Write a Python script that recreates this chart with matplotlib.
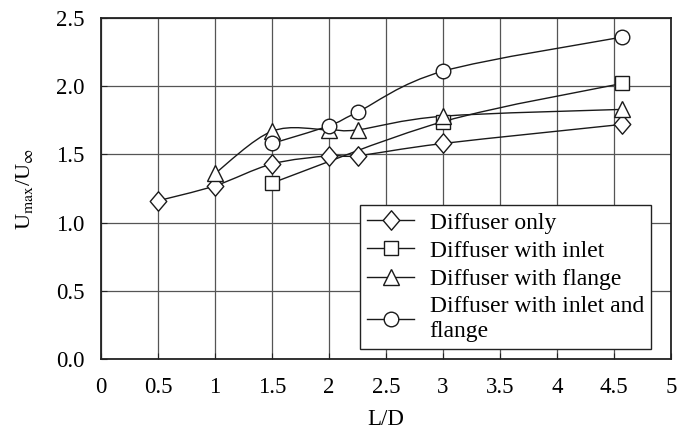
import numpy as np
import matplotlib
matplotlib.use("Agg")
import matplotlib.pyplot as plt
from matplotlib.path import Path
from matplotlib.patches import PathPatch
from matplotlib.lines import Line2D

plt.rcParams['font.family'] = ['Liberation Serif', 'DejaVu Serif']
plt.rcParams['mathtext.fontset'] = 'stix'

# Data
x_diam = [0.5, 1.0, 1.5, 2.0, 2.25, 3.0, 4.57]
y_diam = [1.16, 1.27, 1.43, 1.49, 1.49, 1.58, 1.72]
x_sq = [1.5, 3.0, 4.57]
y_sq = [1.29, 1.74, 2.02]
x_tri = [1.0, 1.5, 2.0, 2.25, 3.0, 4.57]
y_tri = [1.36, 1.67, 1.68, 1.68, 1.78, 1.83]
x_circ = [1.5, 2.0, 2.25, 3.0, 4.57]
y_circ = [1.58, 1.71, 1.81, 2.11, 2.36]
labels = ["Diffuser only", "Diffuser with inlet", "Diffuser with flange",
          "Diffuser with inlet and\nflange"]
xticks = [0, 0.5, 1, 1.5, 2, 2.5, 3, 3.5, 4, 4.5, 5]
xticklabels = ["0", "0.5", "1", "1.5", "2", "2.5", "3", "3.5", "4", "4.5", "5"]
yticks = [0.0, 0.5, 1.0, 1.5, 2.0, 2.5]
yticklabels = ["0.0", "0.5", "1.0", "1.5", "2.0", "2.5"]


def smooth_path(xs, ys, t=1/6):
    pts = np.column_stack([xs, ys]).astype(float)
    n = len(pts)
    verts = [pts[0]]
    codes = [Path.MOVETO]
    for i in range(n - 1):
        p0 = pts[i - 1] if i > 0 else pts[i]
        p1 = pts[i]
        p2 = pts[i + 1]
        p3 = pts[i + 2] if i + 2 < n else pts[i + 1]
        c1 = p1 + (p2 - p0) * t
        c2 = p2 - (p3 - p1) * t
        verts += [c1, c2, p2]
        codes += [Path.CURVE4] * 3
    return Path(verts, codes)


diamond = Path([(0, 1), (-0.85, 0), (0, -1), (0.85, 0), (0, 1)],
               [Path.MOVETO, Path.LINETO, Path.LINETO, Path.LINETO, Path.CLOSEPOLY])

fig = plt.figure(figsize=(6.78, 4.32), dpi=100)
ax = fig.add_axes([101/678, 1 - 359/432, 570/678, 341/432])
ax.set_xlim(0, 5)
ax.set_ylim(0, 2.5)

ax.grid(True, color='#555555', linewidth=0.9)
ax.set_axisbelow(True)

ec = '#1a1a1a'
series = [(x_diam, y_diam, diamond, 14), (x_sq, y_sq, 's', 10),
          (x_tri, y_tri, '^', 12), (x_circ, y_circ, 'o', 10.5)]
handles = []
for (xs, ys, m, ms), lab in zip(series, labels):
    patch = PathPatch(smooth_path(xs, ys), facecolor='none', edgecolor=ec,
                      linewidth=1.0, zorder=3)
    ax.add_patch(patch)
    ax.plot(xs, ys, linestyle='none', marker=m, markersize=ms,
            markerfacecolor='white', markeredgecolor=ec,
            markeredgewidth=1.0, zorder=4)
    handles.append(Line2D([], [], color=ec, linewidth=1.0, marker=m,
                          markersize=ms, markerfacecolor='white',
                          markeredgecolor=ec, markeredgewidth=1.0, label=lab))

ax.set_xticks(xticks)
ax.set_xticklabels(xticklabels)
ax.set_yticks(yticks)
ax.set_yticklabels(yticklabels)
ax.tick_params(direction='in', labelsize=16.5, length=4, color='#222222')
ax.tick_params(axis='x', pad=13)
ax.tick_params(axis='y', pad=12)
for s in ax.spines.values():
    s.set_linewidth(1.3)
    s.set_color('#222222')

ax.set_xlabel('L/D', fontsize=16.5)
ax.xaxis.set_label_coords(0.5, -0.146)
ax.set_ylabel(r'U$_{\rm max}$/U$_{\infty}$', fontsize=16)
ax.yaxis.set_label_coords(-0.115, 0.5)

leg = ax.legend(handles=handles, loc='lower right', bbox_to_anchor=(0.965, 0.03),
                fontsize=17, frameon=True, fancybox=False, edgecolor='#222222',
                framealpha=1, handlelength=2.0, handletextpad=0.65,
                labelspacing=0.28, borderpad=0.3, borderaxespad=0)
leg.get_frame().set_linewidth(1.0)

fig.savefig('out.png', dpi=100)
